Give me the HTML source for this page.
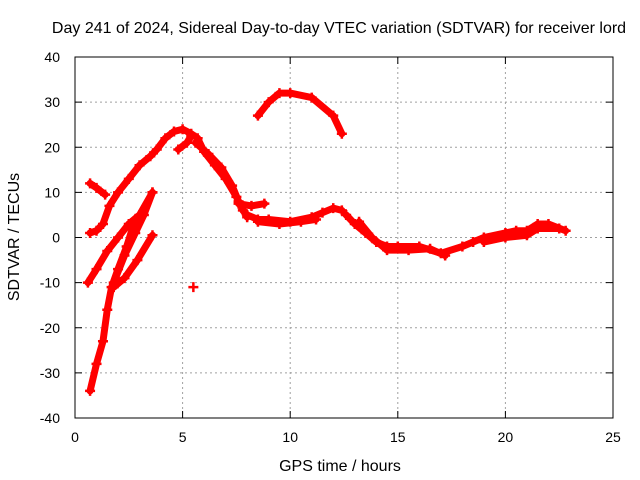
<!DOCTYPE html>
<html><head><meta charset="utf-8"><style>
body{margin:0;background:#fff}
svg{display:block;font-family:"Liberation Sans",sans-serif;font-size:14px}
.big{font-size:16px}
</style></head><body>
<svg id="c" width="640" height="480">
<rect width="640" height="480" fill="#fff"/>
<text class="big" x="339" y="33" text-anchor="middle">Day 241 of 2024, Sidereal Day-to-day VTEC variation (SDTVAR) for receiver lord</text>
<text class="big" x="340" y="471" text-anchor="middle">GPS time / hours</text>
<text class="big" transform="translate(19,237) rotate(-90)" text-anchor="middle">SDTVAR / TECUs</text>
<g id="grid"></g><g id="data"></g>
<rect x="75" y="57" width="538" height="361" fill="none" stroke="#000"/>
</svg>
<script>
const xTicks=[0,5,10,15,20,25];
const yTicks=[-40,-30,-20,-10,0,10,20,30,40];
const track1=[[0.7,12],[1.0,11],[1.4,9.5]];
const track2=[[0.7,1],[1.0,1.5],[1.3,3],[1.6,7],[2.0,10],[2.5,13],[3.0,16],[3.5,18],[3.8,19.5],[4.2,22],[4.6,23.5],[5.0,24],[5.4,23],[5.7,22],[6.0,19],[6.5,16],[7.0,13],[7.5,9],[7.8,6],[8.0,5],[8.5,4],[9.0,4],[10.0,3.5],[11.0,4.5],[11.5,5.5],[12.0,6.5],[12.4,6]];
const track2b=[[4.8,19.5],[5.2,21],[5.4,22.5]];
const track2c=[[7.6,7.5],[8.2,7],[8.8,7.5]];
const track2d=[[5.6,21],[6.2,18.5],[6.8,15.5],[7.3,11.5],[7.6,8],[8.0,4.5]];
const track2e=[[8.5,3.5],[9.5,3],[10.5,3.5],[11.2,4]];
const track3=[[0.6,-10],[1.0,-7],[1.5,-3],[2.0,0],[2.5,3],[3.0,5],[3.6,10]];
const track3b=[[1.8,-10],[2.3,-4],[2.8,1],[3.2,5],[3.6,10]];
const track4=[[0.7,-34],[1.0,-28],[1.3,-23],[1.5,-16],[1.7,-11],[2.0,-7],[2.4,-2],[2.8,4]];
const track4b=[[1.8,-11],[2.3,-9],[2.9,-5],[3.6,0.5]];
const arc=[[8.5,27],[9.0,30],[9.5,32],[10.0,32],[11.0,31],[12.0,27],[12.4,23]];
const track5=[[12.6,5],[13.0,3],[13.5,1],[14.0,-1],[14.5,-2],[15.0,-2],[16.0,-2],[17.0,-3.5],[18.0,-2],[18.5,-1],[19.0,0],[20.0,1],[20.5,1.5],[21.0,1.5],[21.5,3],[22.0,3],[22.8,1.5]];
const track5b=[[13.2,3.5],[13.8,0],[14.5,-2.8],[15.5,-2.8],[16.5,-2.5],[17.2,-4]];
const track5c=[[19.0,-1],[20.0,0],[21.0,0.5],[21.5,2],[22.5,2]];
const isolated=[[5.5,-11]];
const series=[track1,track2,track2b,track2c,track2d,track2e,track3,track3b,track4,track4b,arc,track5,track5b,track5c,isolated];
const X=v=>75+v*538/25, Y=v=>237.5-v*361/80;
const NS='http://www.w3.org/2000/svg';
const g=document.getElementById('grid'), d=document.getElementById('data');
function mk(tag,at,p){const e=document.createElementNS(NS,tag);for(const k in at)e.setAttribute(k,at[k]);p.appendChild(e);return e;}
xTicks.forEach(t=>{
 if(t>0&&t<25){const l=mk('line',{x1:X(t),x2:X(t),y1:57,y2:418,stroke:'#a0a0a0','stroke-dasharray':'2,3'},g);
 
 }
 mk('line',{x1:X(t),x2:X(t),y1:418,y2:411,stroke:'#000'},g);
 mk('line',{x1:X(t),x2:X(t),y1:57,y2:64,stroke:'#000'},g);
 const tx=mk('text',{x:X(t),y:442,'text-anchor':'middle'},g);tx.textContent=t;
 
 
});
yTicks.forEach(t=>{
 if(t>-40&&t<40){const l=mk('line',{x1:75,x2:613,y1:Y(t),y2:Y(t),stroke:'#a0a0a0','stroke-dasharray':'2,3'},g);
 
 }
 mk('line',{x1:75,x2:82,y1:Y(t),y2:Y(t),stroke:'#000'},g);
 mk('line',{x1:606,x2:613,y1:Y(t),y2:Y(t),stroke:'#000'},g);
 const tx=mk('text',{x:60,y:Y(t)+5,'text-anchor':'end'},g);tx.textContent=t;
 
 
});
series.forEach((s,i)=>{
 const pl=mk('polyline',{points:s.map(p=>X(p[0])+','+Y(p[1])).join(' '),fill:'none',stroke:'#f00','stroke-width':7,'stroke-linejoin':'round','stroke-linecap':'round'},d);
 
 
 s.forEach(p=>{
  const m=mk('path',{d:`M${X(p[0])-5},${Y(p[1])}h10M${X(p[0])},${Y(p[1])-5}v10`,stroke:'#f00','stroke-width':2.5},d);
  
  
 });
});
</script>
</body></html>
